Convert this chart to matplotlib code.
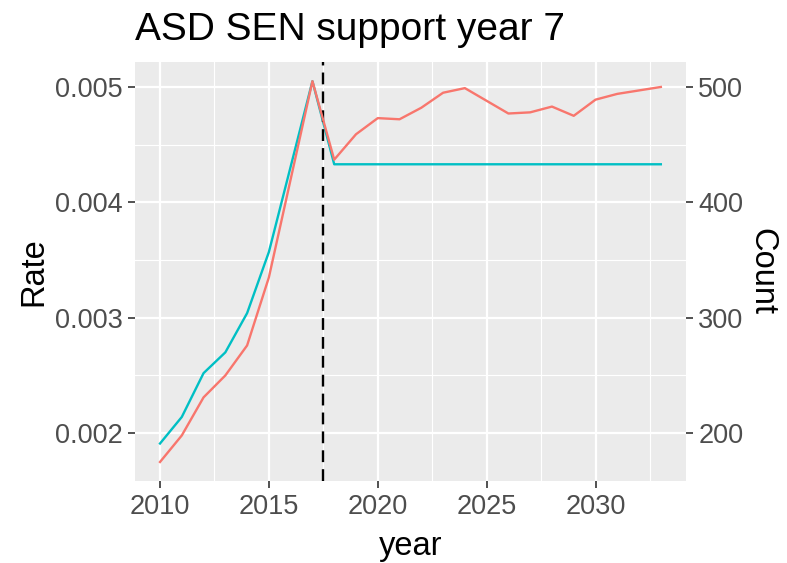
import matplotlib

matplotlib.use("Agg")
import matplotlib.pyplot as plt
from matplotlib.ticker import MultipleLocator

plt.rcParams["font.family"] = ["Liberation Sans", "DejaVu Sans"]

PANEL = "#EBEBEB"
TEAL = "#00BFC4"
SALMON = "#F8766D"
TICK_TXT = "#4D4D4D"
TICK = "#333333"

years = list(range(2010, 2034))
rate = [0.00191, 0.00214, 0.00252, 0.00270, 0.00304, 0.00357, 0.00431, 0.00505,
        0.00433, 0.00433, 0.00433, 0.00433, 0.00433, 0.00433, 0.00433, 0.00433,
        0.00433, 0.00433, 0.00433, 0.00433, 0.00433, 0.00433, 0.00433, 0.00433]
count = [175, 198, 231, 250, 276, 335, 420, 505,
         437, 459, 473, 472, 482, 495, 499, 488,
         477, 478, 483, 475, 489, 494, 497, 500]
cutoff_year = 2017.5
SCALE = 100000  # count = rate * SCALE on the secondary axis

fig = plt.figure(figsize=(7.87, 5.63), dpi=100)
ax = fig.add_axes([0.1715, 0.1456, 0.700, 0.744])
ax.set_facecolor(PANEL)
for s in ax.spines.values():
    s.set_visible(False)

# shared y range (ggplot-like 5% expansion)
lo = min(min(rate), min(count) / SCALE)
hi = max(max(rate), max(count) / SCALE)
pad = (hi - lo) * 0.05
ax.set_ylim(lo - pad, hi + pad)
xpad = (years[-1] - years[0]) * 0.05
ax.set_xlim(years[0] - xpad, years[-1] + xpad)

ax.xaxis.set_major_locator(MultipleLocator(5))
ax.xaxis.set_minor_locator(MultipleLocator(2.5))
ax.yaxis.set_major_locator(MultipleLocator(0.001))
ax.yaxis.set_minor_locator(MultipleLocator(0.0005))
ax.grid(which="major", color="white", linewidth=1.6)
ax.grid(which="minor", color="white", linewidth=0.8)
ax.set_axisbelow(True)

ax.plot(years, rate, color=TEAL, linewidth=1.7, zorder=3)

ax2 = ax.twinx()
for s in ax2.spines.values():
    s.set_visible(False)
ax2.set_ylim((lo - pad) * SCALE, (hi + pad) * SCALE)
ax2.yaxis.set_major_locator(MultipleLocator(100))
ax2.plot(years, count, color=SALMON, linewidth=1.7, zorder=3)
ax2.axvline(cutoff_year, color="black", linestyle=(0, (5, 3)), linewidth=1.7)

for a in (ax, ax2):
    a.tick_params(which="major", colors=TICK, labelcolor=TICK_TXT, labelsize=19.5,
                  length=5, width=1.2, pad=4)
    a.tick_params(which="minor", length=0)

ax.yaxis.set_major_formatter(plt.FuncFormatter(lambda v, p: f"{v:.3f}"))

ax.set_xlabel("year", fontsize=23.5, color="black", labelpad=8)
ax.set_ylabel("Rate", fontsize=23.5, color="black", labelpad=4)
ax2.set_ylabel("Count", fontsize=23.5, color="black", rotation=270, labelpad=24)
ax.set_title("ASD SEN support year 7", fontsize=28, loc="left", pad=16, x=0.0)

fig.savefig("out.png", dpi=100)
